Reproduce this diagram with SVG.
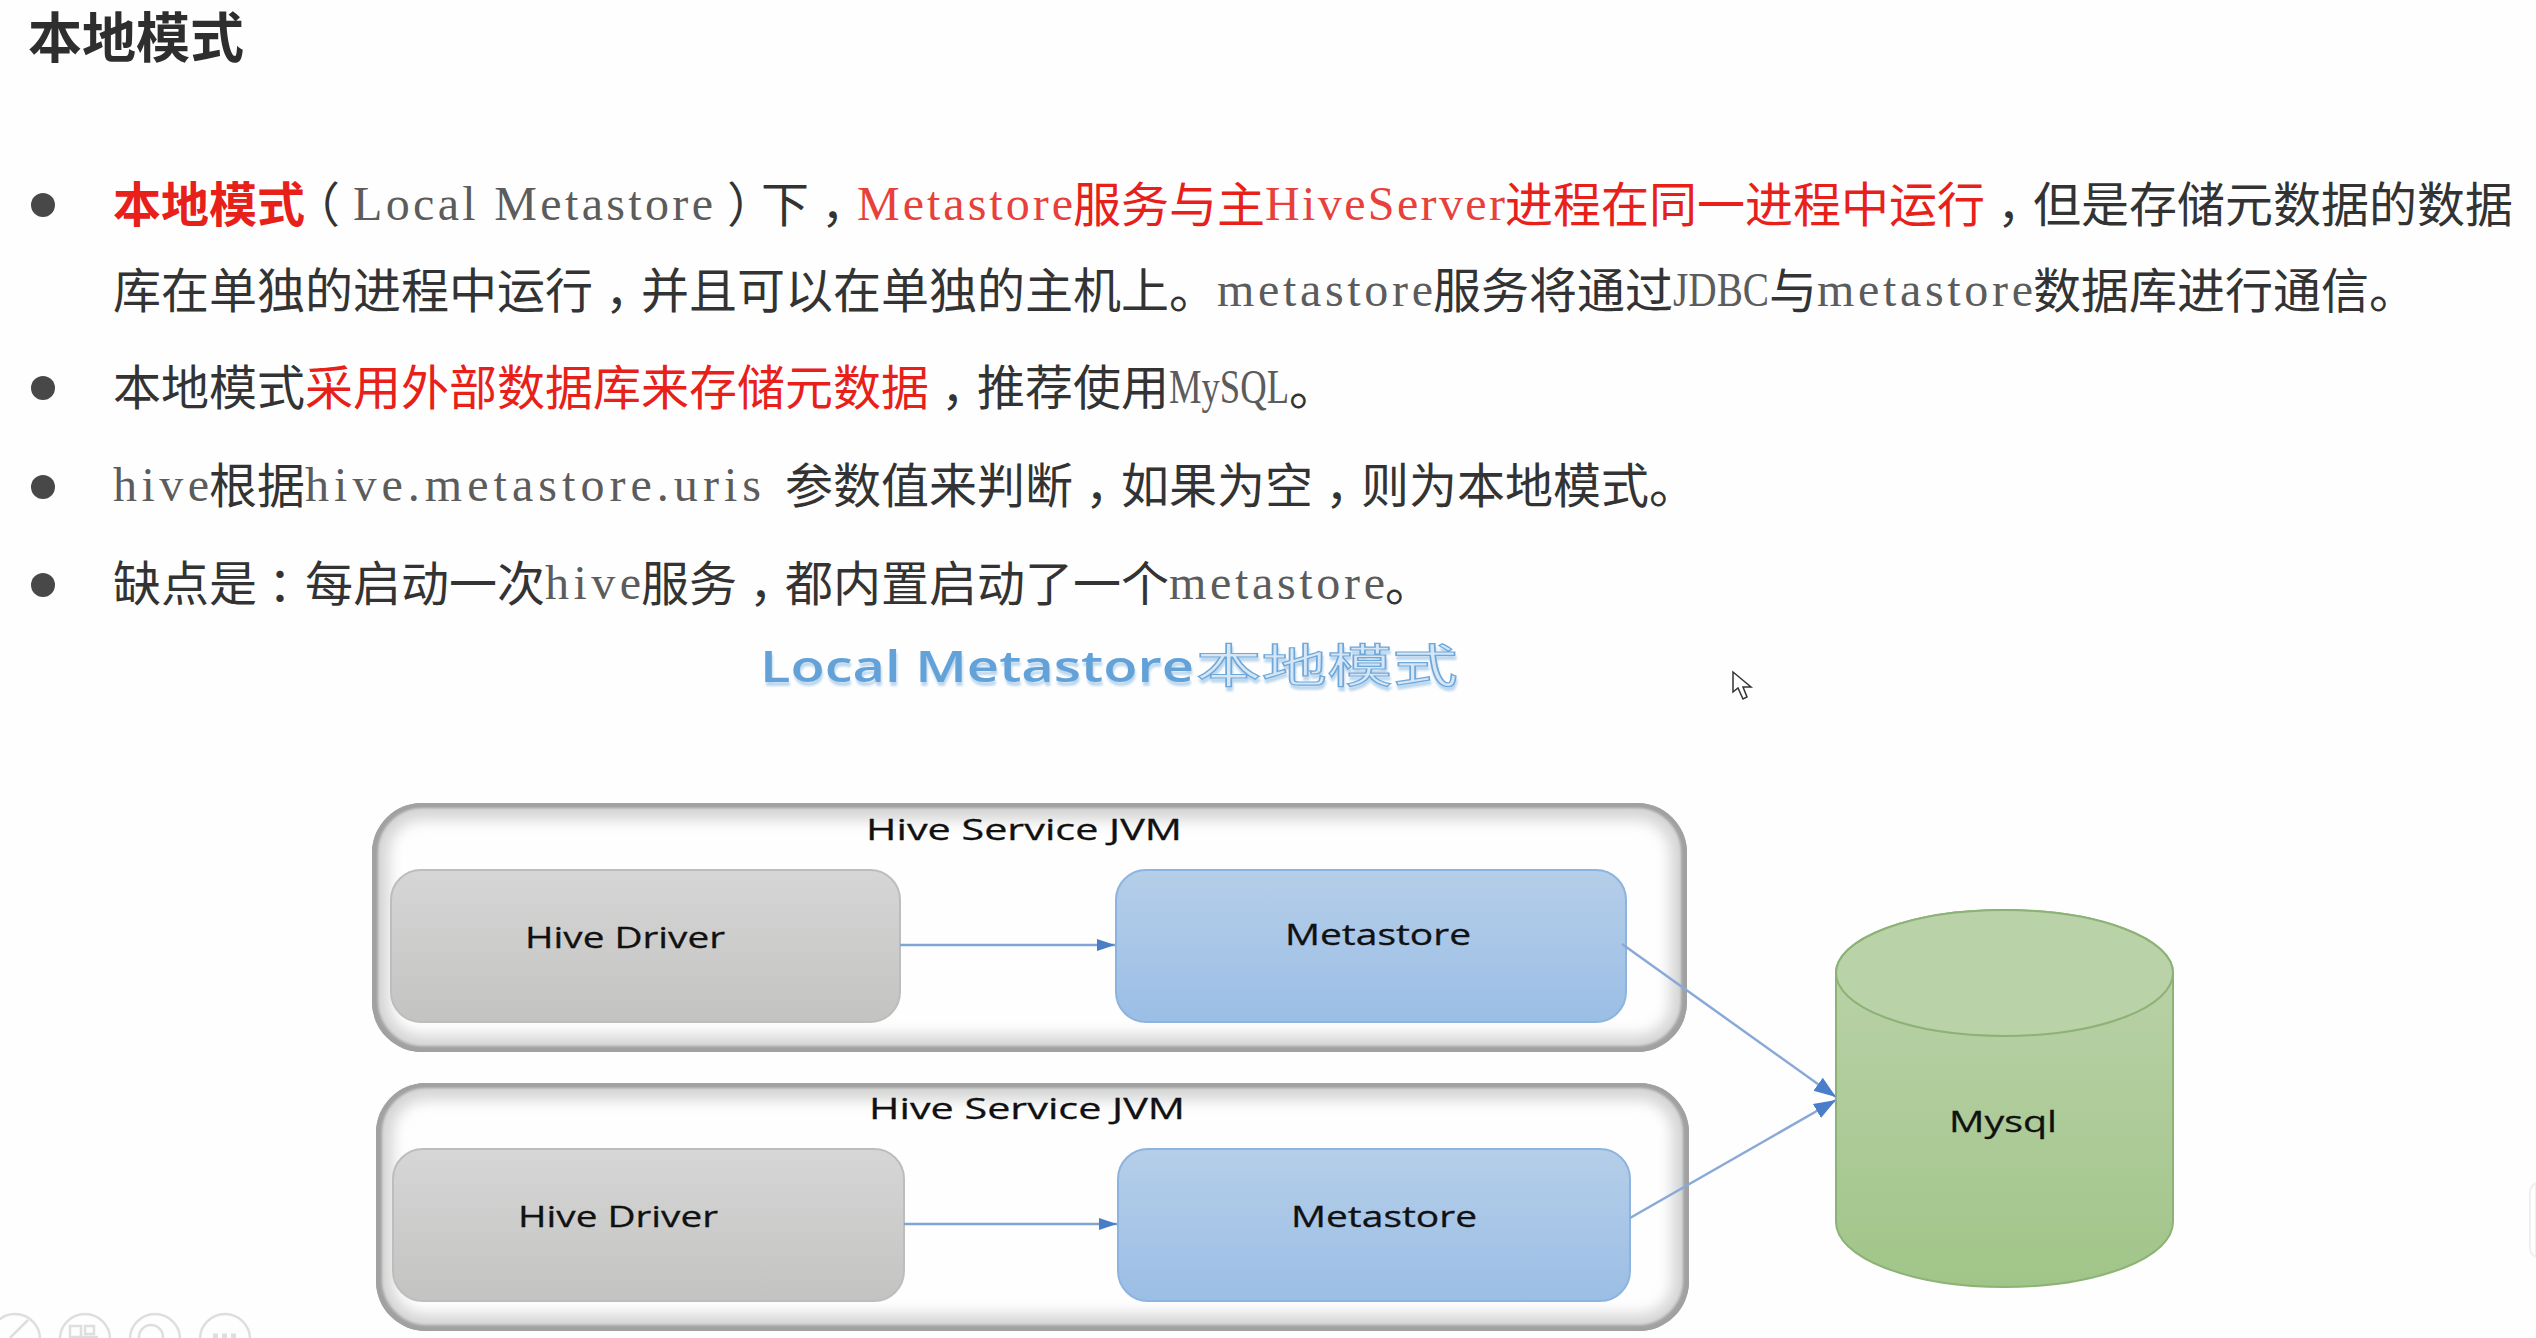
<svg xmlns="http://www.w3.org/2000/svg" width="2536" height="1338" viewBox="0 0 2536 1338">
<style>
text{white-space:pre}
.c{font-family:"Noto Sans CJK SC","Noto Sans",sans-serif;font-size:48px;fill:#333}
.r{fill:#e8201a}
.b{font-weight:700}
.l{font-family:"Liberation Serif","Noto Serif",serif;font-size:48px;fill:#5c5c5c}
.lr{fill:#e8403a}
.bul{fill:#484848}
.n{font-family:"Open Sans","Noto Sans",sans-serif;font-size:29px;fill:#111;stroke:#111;stroke-width:.3}
.outer{fill:#fefefe}
.sh1{fill:none;stroke:#d4d5d4;stroke-width:34;filter:url(#blur)}
.sh2{fill:none;stroke:#9a9b9a;stroke-width:9;filter:url(#blur2)}
.hd{fill:url(#gg);stroke:#bcbdbc;stroke-width:2}
.ms{fill:url(#gb);stroke:#8db4de;stroke-width:2}
.ln{fill:none;stroke:#7fa4d6;stroke-width:2.5}
.ld{fill:none;stroke:#8aa8d8;stroke-width:2.5}
.ic{fill:none;stroke:#dedede;stroke-width:2.5}
.sub{filter:url(#ds)}
</style>
<defs>
<linearGradient id="gg" x1="0" y1="0" x2="0" y2="1"><stop offset="0" stop-color="#d5d6d5"/><stop offset="1" stop-color="#c3c4c2"/></linearGradient>
<linearGradient id="gb" x1="0" y1="0" x2="0" y2="1"><stop offset="0" stop-color="#b5cee9"/><stop offset="1" stop-color="#9bbee5"/></linearGradient>
<linearGradient id="gc" x1="0" y1="0" x2="0" y2="1"><stop offset="0" stop-color="#bdd3ac"/><stop offset="1" stop-color="#a1c589"/></linearGradient>
<filter id="blur" x="-5%" y="-15%" width="110%" height="130%"><feGaussianBlur stdDeviation="7"/></filter>
<filter id="blur2" x="-5%" y="-10%" width="110%" height="120%"><feGaussianBlur stdDeviation="1.6"/></filter>
<filter id="ds" x="-5%" y="-20%" width="110%" height="150%"><feDropShadow dx="1" dy="4" stdDeviation="0.8" flood-color="#bcd7ee"/></filter>
<clipPath id="c1"><rect x="372" y="803" width="1315" height="249" rx="50"/></clipPath>
<clipPath id="c2"><rect x="376" y="1083" width="1313" height="248" rx="50"/></clipPath>
<marker id="ah" markerUnits="userSpaceOnUse" markerWidth="20" markerHeight="14" refX="18" refY="7" orient="auto"><path d="M0 1L18 7L0 13Z" fill="#4a7ec4"/></marker>
<marker id="ad" markerUnits="userSpaceOnUse" markerWidth="24" markerHeight="20" refX="22" refY="10" orient="auto"><path d="M0 2L22 10L0 18Z" fill="#4a7ec9"/></marker>
</defs>
<rect width="2536" height="1338" fill="#fefefe"/>

<g id="title"><text class="c b" x="28" y="58" style="font-size:54px;fill:#2e2e2e">本地模式</text></g>

<g id="bullets">
<ellipse class="bul" cx="43" cy="205" rx="12" ry="12"/>
<ellipse class="bul" cx="43" cy="388" rx="12" ry="12"/>
<ellipse class="bul" cx="43" cy="487" rx="12" ry="12"/>
<ellipse class="bul" cx="43" cy="585" rx="12" ry="12"/>
</g>

<g id="body-text">
<text class="c" y="222"><tspan class="r b" x="113">本地模式</tspan><tspan x="292">（</tspan><tspan class="l" x="353" y="220" textLength="360">Local Metastore</tspan><tspan x="727" y="222">）</tspan><tspan x="761">下</tspan><tspan x="821">，</tspan><tspan class="l lr" x="857" y="220" textLength="216">Metastore</tspan><tspan class="r" x="1073" y="222">服务与主</tspan><tspan class="l lr" x="1265" y="220" textLength="240">HiveServer</tspan><tspan class="r" x="1505" y="222">进程在同一进程中运行</tspan><tspan x="1997">，</tspan><tspan x="2033">但是存储元数据的数据</tspan></text>

<text class="c" y="308"><tspan x="113">库在单独的进程中运行</tspan><tspan x="605">，</tspan><tspan x="641">并且可以在单独的主机上。</tspan><tspan class="l" x="1217" y="306" textLength="216">metastore</tspan><tspan x="1433" y="308">服务将通过</tspan><tspan class="l" x="1673" y="306" textLength="96" lengthAdjust="spacingAndGlyphs">JDBC</tspan><tspan x="1769" y="308">与</tspan><tspan class="l" x="1817" y="306" textLength="216">metastore</tspan><tspan x="2033" y="308">数据库进行通信。</tspan></text>

<text class="c" y="405"><tspan x="113">本地模式</tspan><tspan class="r" x="305">采用外部数据库来存储元数据</tspan><tspan x="941">，</tspan><tspan x="977">推荐使用</tspan><tspan class="l" x="1169" y="403" textLength="120" lengthAdjust="spacingAndGlyphs">MySQL</tspan><tspan x="1289" y="405">。</tspan></text>

<text class="c" y="503"><tspan class="l" x="113" y="501" textLength="96">hive</tspan><tspan x="209" y="503">根据</tspan><tspan class="l" x="305" y="501" textLength="456">hive.metastore.uris</tspan><tspan x="785" y="503">参数值来判断</tspan><tspan x="1085">，</tspan><tspan x="1121">如果为空</tspan><tspan x="1325">，</tspan><tspan x="1361">则为本地模式。</tspan></text>

<text class="c" y="601"><tspan x="113">缺点是</tspan><tspan x="268">：</tspan><tspan x="305">每启动一次</tspan><tspan class="l" x="545" y="599" textLength="96">hive</tspan><tspan x="641" y="601">服务</tspan><tspan x="749">，</tspan><tspan x="785">都内置启动了一个</tspan><tspan class="l" x="1169" y="599" textLength="216">metastore</tspan><tspan x="1385" y="601">。</tspan></text>
</g>

<g id="subtitle">
<text class="sub" y="682" style="font-size:44px;font-family:'Open Sans','Noto Sans','Noto Sans CJK SC',sans-serif;font-weight:600;fill:#64a2d8"><tspan x="760" textLength="434" lengthAdjust="spacingAndGlyphs">Local Metastore</tspan><tspan x="1196" y="682" textLength="262" lengthAdjust="spacingAndGlyphs" style="font-size:46px;font-family:'Noto Sans CJK SC',sans-serif;font-weight:400;fill:#d6e6f5;stroke:#6ea8db;stroke-width:1.2">本地模式</tspan></text>
</g>

<g id="jvm1">
<rect class="outer" x="372" y="803" width="1315" height="249" rx="50"/>
<g clip-path="url(#c1)"><rect class="sh1" x="372" y="803" width="1315" height="249" rx="50"/><rect class="sh2" x="372" y="803" width="1315" height="249" rx="50"/><rect class="sh2" x="376" y="803" width="1311" height="247" rx="50" style="stroke:#a0a1a0;stroke-width:7" transform="translate(-2 0)"/></g>
<text class="n" x="866" y="840" textLength="316" lengthAdjust="spacingAndGlyphs">Hive Service JVM</text>
</g>
<g id="jvm2">
<rect class="outer" x="376" y="1083" width="1313" height="248" rx="50"/>
<g clip-path="url(#c2)"><rect class="sh1" x="376" y="1083" width="1313" height="248" rx="50"/><rect class="sh2" x="376" y="1083" width="1313" height="248" rx="50"/><rect class="sh2" x="380" y="1083" width="1309" height="246" rx="50" style="stroke:#a0a1a0;stroke-width:7" transform="translate(-2 0)"/></g>
<text class="n" x="869" y="1119" textLength="316" lengthAdjust="spacingAndGlyphs">Hive Service JVM</text>
</g>

<g id="driver1">
<rect class="hd" x="391" y="870" width="509" height="152" rx="30"/>
<text class="n" x="525" y="948" textLength="200" lengthAdjust="spacingAndGlyphs">Hive Driver</text>
</g>
<g id="metastore1">
<rect class="ms" x="1116" y="870" width="510" height="152" rx="30"/>
<text class="n" x="1285" y="945" textLength="186" lengthAdjust="spacingAndGlyphs">Metastore</text>
</g>
<g id="driver2">
<rect class="hd" x="393" y="1149" width="511" height="152" rx="30"/>
<text class="n" x="518" y="1227" textLength="200" lengthAdjust="spacingAndGlyphs">Hive Driver</text>
</g>
<g id="metastore2">
<rect class="ms" x="1118" y="1149" width="512" height="152" rx="30"/>
<text class="n" x="1291" y="1227" textLength="186" lengthAdjust="spacingAndGlyphs">Metastore</text>
</g>

<g id="mysql">
<path d="M1836 973A168.500 63 0 0 1 2173 973V1222A168.500 65 0 0 1 1836 1222Z" fill="url(#gc)" stroke="#8db275" stroke-width="2"/>
<ellipse cx="2004.500" cy="973" rx="168.500" ry="63" fill="#b9d2a8" stroke="#8db275" stroke-width="2"/>
<text class="n" x="1949" y="1132" textLength="108" lengthAdjust="spacingAndGlyphs">Mysql</text>
</g>

<g id="connectors">
<line class="ln" x1="900" y1="945" x2="1115" y2="945" marker-end="url(#ah)"/>
<line class="ln" x1="904" y1="1224" x2="1117" y2="1224" marker-end="url(#ah)"/>
<line class="ld" x1="1622" y1="944" x2="1836" y2="1097" marker-end="url(#ad)"/>
<line class="ld" x1="1630" y1="1218" x2="1836" y2="1100" marker-end="url(#ad)"/>
</g>

<g id="cursor"><path d="M1733 672V692L1738 688L1743 699L1747 697L1743 687L1751 687Z" fill="#fff" stroke="#333" stroke-width="1.500"/></g>

<g id="toolbar">
<circle class="ic" cx="15" cy="1339" r="25"/><path class="ic" d="M10 1338L28 1320"/>
<circle class="ic" cx="85" cy="1339" r="25"/><path class="ic" d="M70 1326H81V1337H70ZM85 1326H94V1334H85ZM80 1337H98"/>
<circle class="ic" cx="155" cy="1339" r="25"/><circle class="ic" cx="151" cy="1337" r="12"/>
<circle class="ic" cx="225" cy="1339" r="25"/><path d="M213 1336H237" stroke="#dedede" stroke-width="5" stroke-dasharray="5 4" fill="none"/>
</g>
<g id="edge-panel"><path d="M2536 1183C2530 1186 2530 1190 2530 1196V1244C2530 1252 2531 1255 2536 1257Z" fill="#fff" stroke="#efefef" stroke-width="2"/></g>
</svg>
